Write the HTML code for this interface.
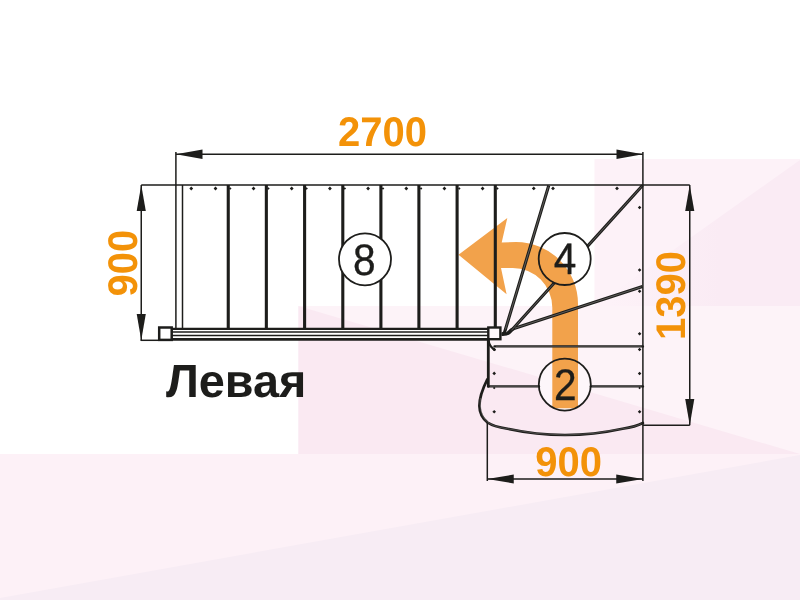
<!DOCTYPE html>
<html lang="ru">
<head>
<meta charset="utf-8">
<title>Левая</title>
<style>
  html, body { margin: 0; padding: 0; background: #ffffff; }
  body { width: 800px; height: 600px; overflow: hidden; position: relative; }
  svg { position: absolute; left: 0; top: 0; display: block; will-change: transform; }
  text { text-rendering: geometricPrecision; }
  .dim { font-family: "Liberation Sans", Arial, sans-serif; font-weight: bold; font-size: 40px; fill: #f39208; }
  .num { font-family: "Liberation Sans", Arial, sans-serif; font-weight: normal; font-size: 44.2px; fill: #1d1d1b; stroke: #1d1d1b; stroke-width: 0.35; text-anchor: middle; }
  .title { font-family: "Liberation Sans", Arial, sans-serif; font-weight: bold; font-size: 45.8px; fill: #1d1d1b; }
  .ln { stroke: #1d1d1b; fill: none; }
</style>
</head>
<body>
<svg width="800" height="600" viewBox="0 0 800 600">
  <!-- background -->
  <rect x="0" y="0" width="800" height="600" fill="#ffffff"/>
  <defs>
    <linearGradient id="fa" gradientUnits="userSpaceOnUse" x1="610" y1="0" x2="720" y2="0">
      <stop offset="0" stop-color="#fdf2f8"/>
      <stop offset="1" stop-color="#faebf4"/>
    </linearGradient>
  </defs>
  <g id="bg">
    <rect x="594.5" y="159" width="205.5" height="149" fill="#fdf2f8"/>
    <rect x="298.3" y="306" width="501.7" height="149" fill="#fae9f2"/>
    <rect x="0" y="454" width="800" height="146" fill="#fdf1f7"/>
    <!-- subtle facets -->
    <polygon points="800,160 800,306 594.5,306" fill="url(#fa)"/>
    <polygon points="298.3,306 800,306 800,454" fill="#fdf3f8"/>
    <polygon points="0,598 800,455 800,600 0,600" fill="#f7ecf4"/>
  </g>

  <!-- circle backings -->
  <circle cx="564.8" cy="384.6" r="26" fill="#fdf6fa"/>

  <!-- orange turn arrow -->
  <g id="arrow" fill="#f2a24b">
    <path d="M552.3 408.3 L552.3 307.5 A39.5 39.5 0 0 0 512.8 268 L501 268 L506.6 294.2 L458.5 254.7 L507.3 218.1 L501.7 242.5 L516 242 A62 62 0 0 1 578 304 L578 408.3 Z"/>
  </g>

  <!-- stair outline -->
  <g class="ln" stroke-width="1.5">
    <line x1="141.25" y1="185" x2="689.75" y2="185"/>
    <line x1="175.9" y1="152" x2="175.9" y2="328"/>
    <line x1="642.9" y1="152" x2="642.9" y2="481"/>
    <line x1="487.3" y1="423" x2="487.3" y2="481"/>
    <line x1="175.9" y1="154.3" x2="642.9" y2="154.3"/>
    <line x1="141.25" y1="185" x2="141.25" y2="340.3"/>
    <line x1="140.5" y1="340.3" x2="158.5" y2="340.3"/>
    <line x1="689.75" y1="185" x2="689.75" y2="425.25"/>
    <line x1="642.9" y1="425.25" x2="689.75" y2="425.25"/>
    <line x1="487.3" y1="479" x2="642.9" y2="479"/>
    <line x1="182.5" y1="185" x2="182.5" y2="328"/>
  </g>

  <!-- dimension arrowheads -->
  <g fill="#1d1d1b">
    <polygon points="175.9,154.3 202.5,149.6 202.5,159"/>
    <polygon points="642.9,154.3 616.5,149.6 616.5,159"/>
    <polygon points="141.25,185 136.7,211 145.8,211"/>
    <polygon points="141.25,340.3 136.7,314 145.8,314"/>
    <polygon points="689.75,185 685.2,211 694.3,211"/>
    <polygon points="689.75,425.25 685.2,399 694.3,399"/>
    <polygon points="487.3,479 513.75,474.5 513.75,483.5"/>
    <polygon points="642.9,479 616.25,474.5 616.25,483.5"/>
  </g>

  <!-- treads of upper flight -->
  <g class="ln" stroke-width="3.1">
    <line x1="228.25" y1="185" x2="228.25" y2="328"/>
    <line x1="266.35" y1="185" x2="266.35" y2="328"/>
    <line x1="304.6" y1="185" x2="304.6" y2="328"/>
    <line x1="342.8" y1="185" x2="342.8" y2="328"/>
    <line x1="380.9" y1="185" x2="380.9" y2="328"/>
    <line x1="418.9" y1="185" x2="418.9" y2="328"/>
    <line x1="457.1" y1="185" x2="457.1" y2="328"/>
    <line x1="495.3" y1="185" x2="495.3" y2="327"/>
  </g>

  <!-- rail -->
  <rect x="171" y="328" width="317" height="12" fill="#ffffff"/>
  <g class="ln">
    <line x1="171.5" y1="328.9" x2="488" y2="328.9" stroke-width="2.2"/>
    <line x1="171.5" y1="332.1" x2="488" y2="332.1" stroke-width="1.5"/>
    <line x1="171.5" y1="335.5" x2="488" y2="335.5" stroke-width="1.5"/>
    <line x1="171.5" y1="339.4" x2="488" y2="339.4" stroke-width="2.9"/>
    <rect x="159.2" y="327.5" width="12.5" height="12.4" stroke-width="2.5" fill="#ffffff"/>
    <rect x="488.3" y="327.5" width="12.1" height="11.7" stroke-width="2.4" fill="#fef8fb"/>
  </g>

  <!-- winder lines -->
  <g class="ln" stroke-width="3.1" stroke-linejoin="round">
    <path d="M548.75 185.5 L504.8 331.5 Q504.5 333.8 501.6 333.8"/>
    <path d="M642.5 185.5 L587.4 246.4"/>
    <path d="M554.4 282.8 L510 332 Q507.5 334.8 501.6 334.5"/>
    <path d="M642.5 286.5 L514 328.5 Q509.5 330.5 507 334"/>
  </g>
  <g fill="none" stroke="#7a7876" stroke-width="0.7">
    <path d="M548.4 186.6 L505.4 329.5"/>
    <path d="M641.7 186.4 L588.2 245.5"/>
    <path d="M553.6 283.7 L511.5 330.3"/>
    <path d="M641.5 286.8 L515 328.2"/>
  </g>

  <!-- lower flight -->
  <g class="ln" stroke-width="2.4" stroke-linecap="round">
    <line x1="488.3" y1="340" x2="488.3" y2="386.3" stroke-width="2.8"/>
    <path d="M488.5 340.5 Q489 346 494.5 349.8"/>
    <line x1="494.5" y1="346.4" x2="642.9" y2="346.4"/>
    <line x1="488.3" y1="386.4" x2="539" y2="386.4"/>
    <line x1="591" y1="386.4" x2="642.9" y2="386.4"/>
    <path stroke-width="2.7" d="M487.3 379.4 C483.5 387 479.3 397 479.4 406 C479.5 413 482.5 418.5 487.5 422.5 C493 426.3 500 427.6 507.5 428.75 A270 270 0 0 0 622.5 428.75 C630 427.6 637 426 642.9 423"/>
  </g>
  <g fill="none" stroke="#7a7876" stroke-width="0.5">
    <line x1="496" y1="346.4" x2="641.5" y2="346.4"/>
    <line x1="490" y1="386.4" x2="538" y2="386.4"/>
    <line x1="592" y1="386.4" x2="641.5" y2="386.4"/>
    <path d="M480.3 398 C479.8 408 481.5 417 487.8 422.3 C493 426.3 500 427.6 507.5 428.75 A270 270 0 0 0 622.5 428.75 C630 427.6 636 426.3 641.5 423.7"/>
  </g>

  <!-- fixing dots -->
  <g id="dots" fill="#1d1d1b">
    <polygon points="189.35,188.50 191.25,186.60 193.15,188.50 191.25,190.40"/>
    <polygon points="213.60,188.50 215.50,186.60 217.40,188.50 215.50,190.40"/>
    <polygon points="228.95,188.50 230.25,187.20 231.55,188.50 230.25,189.80"/>
    <polygon points="251.65,188.50 253.55,186.60 255.45,188.50 253.55,190.40"/>
    <polygon points="267.10,188.50 268.40,187.20 269.70,188.50 268.40,189.80"/>
    <polygon points="289.80,188.50 291.70,186.60 293.60,188.50 291.70,190.40"/>
    <polygon points="305.30,188.50 306.60,187.20 307.90,188.50 306.60,189.80"/>
    <polygon points="328.00,188.50 329.90,186.60 331.80,188.50 329.90,190.40"/>
    <polygon points="343.50,188.50 344.80,187.20 346.10,188.50 344.80,189.80"/>
    <polygon points="366.20,188.50 368.10,186.60 370.00,188.50 368.10,190.40"/>
    <polygon points="381.70,188.50 383.00,187.20 384.30,188.50 383.00,189.80"/>
    <polygon points="404.40,188.50 406.30,186.60 408.20,188.50 406.30,190.40"/>
    <polygon points="419.80,188.50 421.10,187.20 422.40,188.50 421.10,189.80"/>
    <polygon points="442.50,188.50 444.40,186.60 446.30,188.50 444.40,190.40"/>
    <polygon points="458.00,188.50 459.30,187.20 460.60,188.50 459.30,189.80"/>
    <polygon points="480.70,188.50 482.60,186.60 484.50,188.50 482.60,190.40"/>
    <polygon points="496.10,188.50 497.40,187.20 498.70,188.50 497.40,189.80"/>
    <polygon points="531.85,188.40 533.75,186.50 535.65,188.40 533.75,190.30"/>
    <polygon points="551.10,188.40 553.00,186.50 554.90,188.40 553.00,190.30"/>
    <polygon points="615.10,188.40 617.00,186.50 618.90,188.40 617.00,190.30"/>
    <polygon points="637.80,207.50 639.60,205.70 641.40,207.50 639.60,209.30"/>
    <polygon points="637.80,270.00 639.60,268.20 641.40,270.00 639.60,271.80"/>
    <polygon points="637.80,291.25 639.60,289.45 641.40,291.25 639.60,293.05"/>
    <polygon points="637.80,333.75 639.60,331.95 641.40,333.75 639.60,335.55"/>
    <polygon points="637.80,349.50 639.60,347.70 641.40,349.50 639.60,351.30"/>
    <polygon points="637.80,373.50 639.60,371.70 641.40,373.50 639.60,375.30"/>
    <polygon points="637.80,411.70 639.60,409.90 641.40,411.70 639.60,413.50"/>
    <polygon points="638.30,388.00 639.60,386.70 640.90,388.00 639.60,389.30"/>
    <polygon points="492.40,349.50 494.20,347.70 496.00,349.50 494.20,351.30"/>
    <polygon points="492.40,373.40 494.20,371.60 496.00,373.40 494.20,375.20"/>
    <polygon points="492.40,411.70 494.20,409.90 496.00,411.70 494.20,413.50"/>
    <polygon points="492.90,388.00 494.20,386.70 495.50,388.00 494.20,389.30"/>
  </g>

  <!-- circles -->
  <g class="ln" stroke-width="1.8">
    <circle cx="365" cy="259.3" r="26" fill="#ffffff"/>
    <circle cx="564.7" cy="259" r="26"/>
    <circle cx="564.8" cy="384.6" r="26"/>
  </g>
  <text class="num" transform="translate(364.2 274.9) scale(0.92 1)">8</text>
  <text class="num" transform="translate(565 274.4) scale(0.92 1)">4</text>
  <text class="num" transform="translate(565.4 400) scale(0.92 1)">2</text>

  <!-- dimension texts -->
  <text class="dim" transform="translate(338 145.6) scale(1 1.035)">2700</text>
  <text class="dim" transform="translate(535.2 476) scale(1 1.035)">900</text>
  <text class="dim" transform="translate(136.5 296.5) rotate(-90) scale(1 1.035)">900</text>
  <text class="dim" transform="translate(684.8 340) rotate(-90) scale(1 1.035)">1390</text>

  <!-- title -->
  <text class="title" transform="translate(166 397.2) scale(1.022 1.02)">Левая</text>
</svg>
</body>
</html>
